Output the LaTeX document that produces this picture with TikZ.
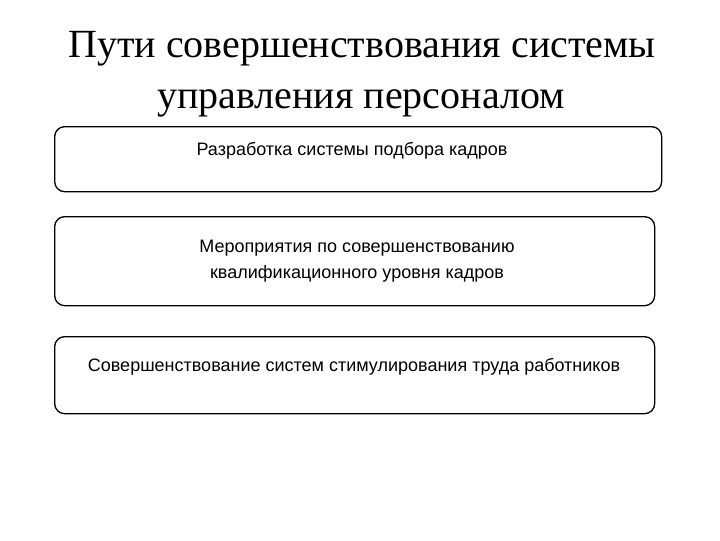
\documentclass[tikz,border=0pt]{standalone}
\usepackage{fontspec}
\setmainfont{Liberation Serif}
\newfontfamily\boxfont{Liberation Sans}
\begin{document}
\begin{tikzpicture}[x=0.75pt,y=-0.75pt,
  panel/.style={draw=black,line width=1pt,rounded corners=7.5pt,inner sep=0pt,anchor=north west},
  paneltext/.style={font=\boxfont\fontsize{13.5pt}{19.5pt}\selectfont,align=center,inner sep=0pt},
  titletext/.style={font=\fontsize{30pt}{32.5pt}\selectfont,inner sep=0pt,anchor=base}]
\useasboundingbox (0,0) rectangle (720,540);
\node[titletext] (title1) at (362,57) {Пути совершенствования системы};
\node[titletext] (title2) at (361,108) {управления персоналом};
\node[panel,minimum width=607*0.75pt,minimum height=65*0.75pt] (b1) at (54,126) {};
\node[panel,minimum width=600*0.75pt,minimum height=89*0.75pt] (b2) at (54,216) {};
\node[panel,minimum width=600*0.75pt,minimum height=77*0.75pt] (b3) at (54,336) {};
\node[paneltext] (t1) at (352,151) {Разработка системы подбора кадров};
\node[paneltext] (t2) at (357,261) {Мероприятия по совершенствованию\\квалификационного уровня кадров};
\node[paneltext] (t3) at (354,367) {Совершенствование систем стимулирования труда работников};
\end{tikzpicture}
\end{document}
